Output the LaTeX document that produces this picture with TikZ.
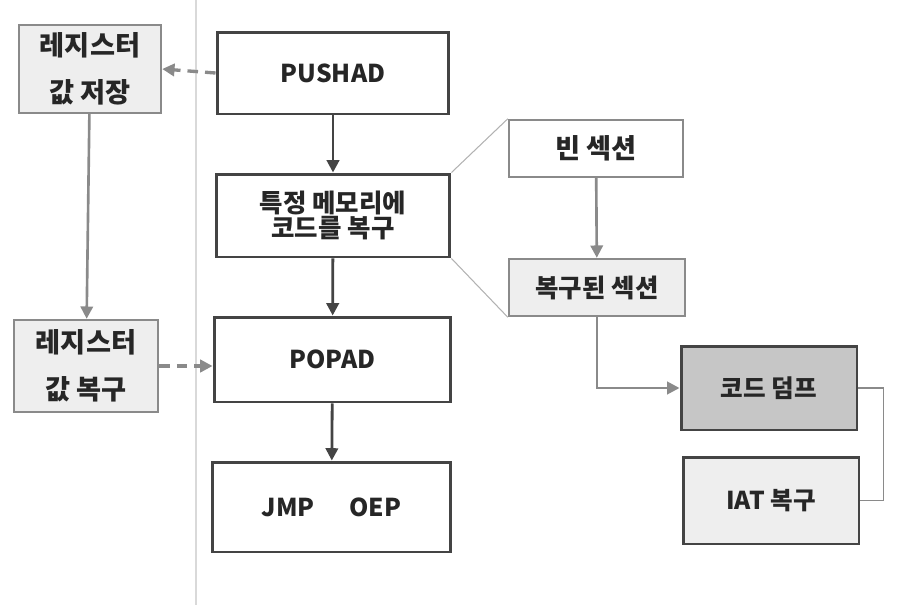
\documentclass[tikz,border=0pt]{standalone}
\usepackage{fontspec}
\setmainfont{Noto Sans CJK KR}
\usepackage{tikz}
\usetikzlibrary{calc, arrows.meta}
\usetikzlibrary{positioning}
\definecolor{boxline}{HTML}{444444}
\definecolor{greyline}{HTML}{8A8A8A}
\definecolor{lightfill}{HTML}{EEEEEE}
\definecolor{dumpfill}{HTML}{C6C6C6}
\definecolor{textcol}{HTML}{262626}
\tikzset{
  mainbox/.style={draw=boxline, line width=1.7pt, fill=white, inner sep=0pt, text=textcol, font=\bfseries\fontsize{14}{15}\selectfont, align=center},
  sidebox/.style={draw=greyline, line width=1.4pt, fill=lightfill, inner sep=0pt, text=textcol, font=\bfseries\fontsize{15.5}{27}\selectfont, align=center},
  darkarrow/.style={->, >={Triangle[length=7pt,width=7pt]}, boxline, line width=1.6pt},
  greyarrow/.style={->, >={Triangle[length=7pt,width=7pt]}, greyline, line width=1.5pt},
  dasharrow/.style={greyarrow, line width=1.9pt, dash pattern=on 6pt off 4pt},
}
\begin{document}
\begin{tikzpicture}[x=0.02cm, y=-0.02cm]
            \useasboundingbox (0,0) rectangle (912,605);
            \draw[draw=black!15, line width=0.8pt] (196,0) --(196,605); %구분선
            \node[sidebox, minimum width=2.84cm, minimum height=1.76cm] (regsave) at (90,69) {레지스터\\값 저장};
            \node[sidebox, minimum width=2.88cm, minimum height=1.84cm] (regrest) at (86,366) {레지스터\\값 복구};
            \node[mainbox, minimum width=4.64cm, minimum height=1.64cm] (pushad) at (333,73) {PUSHAD};
            \node[mainbox, minimum width=4.68cm, minimum height=1.66cm, font=\bfseries\fontsize{14.5}{14.5}\selectfont] (copy) at (333,215.5) {특정 메모리에\\코드를 복구};
            \node[mainbox, minimum width=4.74cm, minimum height=1.70cm] (popad) at (332.5,359.5) {POPAD};
            \node[mainbox, minimum width=4.78cm, minimum height=1.80cm] (jmp) at (331.5,507) {JMP\hspace{1.4em}OEP};
            \node[sidebox, fill=white, minimum width=3.48cm, minimum height=1.14cm] (empty) at (596,148.5) {빈 섹션};
            \node[sidebox, font=\bfseries\fontsize{14.5}{15}\selectfont, minimum width=3.52cm, minimum height=1.14cm] (restored) at (597,287.5) {복구된 섹션};
            \node[mainbox, fill=dumpfill, minimum width=3.52cm, minimum height=1.68cm] (dump) at (769,388) {코드 덤프};
            \node[mainbox, fill=lightfill, minimum width=3.52cm, minimum height=1.74cm] (iat) at (771,500.5) {IAT 복구};
            \draw[darkarrow] (pushad) --(copy); %흐름
            \draw[darkarrow] (copy) --(popad);
            \draw[darkarrow] (popad) --(jmp);
            \draw[dasharrow] (pushad.west) --(regsave.east); %레지스터
            \draw[greyarrow] (regsave) --(regrest);
            \draw[dasharrow] (regrest.east) --(regrest.east -| popad.west);
            \draw[draw=black!30, line width=0.6pt] (copy.north east) --(empty.north west); %확대
            \draw[draw=black!30, line width=0.6pt] (copy.south east) --(restored.south west);
            \draw[greyarrow] (empty) --(restored);
            \draw[greyarrow] (restored.south) |- (dump.west);
            \draw[greyline, line width=0.8pt] (dump.east) --++(25,0) |- (iat.east);
        \end{tikzpicture}
\end{document}
